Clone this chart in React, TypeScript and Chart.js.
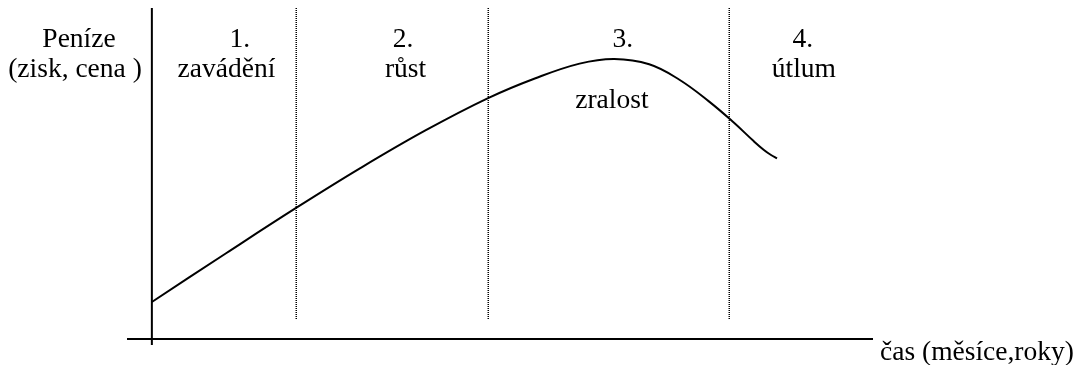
import React, { useEffect, useRef } from "react";
import { Chart, registerables } from "chart.js";

Chart.register(...registerables);

// Curve: money (profit, price) over time through the product life cycle
const timeValues = [0, 15, 29, 42, 55, 67.5, 77, 86, 93, 100, 106, 112, 117, 121, 123, 124.5, 125.7];
const moneyValues = [11.2, 26.0, 39.6, 51.7, 63.0, 72.7, 78.7, 83.2, 84.6, 83.0, 78.4, 71.8, 65.4, 59.8, 57.2, 55.6, 54.6];

// Phase boundaries (time units)
const phaseBoundaries = [29, 67.5, 116];

// Phase labels
const phaseNumbers = ["1.", "2.", "3.", "4."];
const phaseNames = ["zavádění", "růst", "zralost", "útlum"];

// Axis titles
const yTitleLines = ["Peníze", "(zisk, cena )"];
const xTitle = "čas (měsíce,roky)";

const FONT = '27.5px "Liberation Serif", "Times New Roman", serif';

const lifeCyclePlugin = {
  id: "lifeCycle",
  beforeDatasetsDraw(chart: any) {
    const ctx = chart.ctx;
    const xs = chart.scales.x;
    const ys = chart.scales.y;
    const area = chart.chartArea;
    const x0 = xs.getPixelForValue(0);
    const y0 = ys.getPixelForValue(0);

    ctx.save();
    // dotted phase dividers
    ctx.strokeStyle = "#000";
    ctx.lineWidth = 1.5;
    ctx.setLineDash([1, 1]);
    phaseBoundaries.forEach((b) => {
      const px = Math.round(xs.getPixelForValue(b)) + 0.25;
      ctx.beginPath();
      ctx.moveTo(px, Math.round(ys.getPixelForValue(100)));
      ctx.lineTo(px, Math.round(ys.getPixelForValue(5.7)));
      ctx.stroke();
    });
    ctx.setLineDash([]);

    // axes
    ctx.lineWidth = 2;
    ctx.beginPath();
    ctx.moveTo(x0, area.top);
    ctx.lineTo(x0, area.bottom);
    ctx.stroke();
    ctx.beginPath();
    ctx.moveTo(area.left, y0);
    ctx.lineTo(area.right, y0);
    ctx.stroke();

    // texts
    ctx.fillStyle = "#000";
    ctx.font = FONT;
    ctx.textAlign = "center";
    ctx.textBaseline = "alphabetic";
    const line1 = ys.getPixelForValue(100) + 39;
    const line2 = line1 + 30;

    ctx.fillText(yTitleLines[0], 79, line1);
    ctx.fillText(yTitleLines[1], 75, line2);

    const numX = [17.7, 50.5, 94.7, 130.9];
    const nameX = [15.0, 51.0, 92.5, 131.1];
    phaseNumbers.forEach((t, i) => {
      ctx.fillText(t, xs.getPixelForValue(numX[i]), line1);
    });
    phaseNames.forEach((t, i) => {
      const y = i === 2 ? line1 + 61 : line2;
      ctx.fillText(t, xs.getPixelForValue(nameX[i]), y);
    });

    ctx.textAlign = "left";
    ctx.fillText(xTitle, 880, y0 + 21);
    ctx.restore();
  },
};

export default function App() {
  const ref = useRef<HTMLCanvasElement | null>(null);

  useEffect(() => {
    if (!ref.current) return;
    const chart = new Chart(ref.current, {
      type: "line",
      data: {
        labels: timeValues,
        datasets: [
          {
            data: timeValues.map((t, i) => ({ x: t, y: moneyValues[i] })),
            borderColor: "#000",
            borderWidth: 2,
            pointRadius: 0,
            fill: false,
            tension: 0.4,
          },
        ],
      },
      options: {
        responsive: false,
        animation: false,
        maintainAspectRatio: false,
        layout: { padding: { left: 127, right: 207, top: 8, bottom: 20 } },
        plugins: { legend: { display: false }, tooltip: { enabled: false } },
        scales: {
          x: { type: "linear", min: -5, max: 145, display: false },
          y: { type: "linear", min: -1.8, max: 100, display: false },
        },
      },
      plugins: [lifeCyclePlugin],
    });
    return () => chart.destroy();
  }, []);

  return (
    <div style={{ position: "absolute", left: 0, top: 0, width: 1080, height: 365, background: "#fff" }}>
      <canvas ref={ref} width={1080} height={365} style={{ display: "block" }} />
    </div>
  );
}
